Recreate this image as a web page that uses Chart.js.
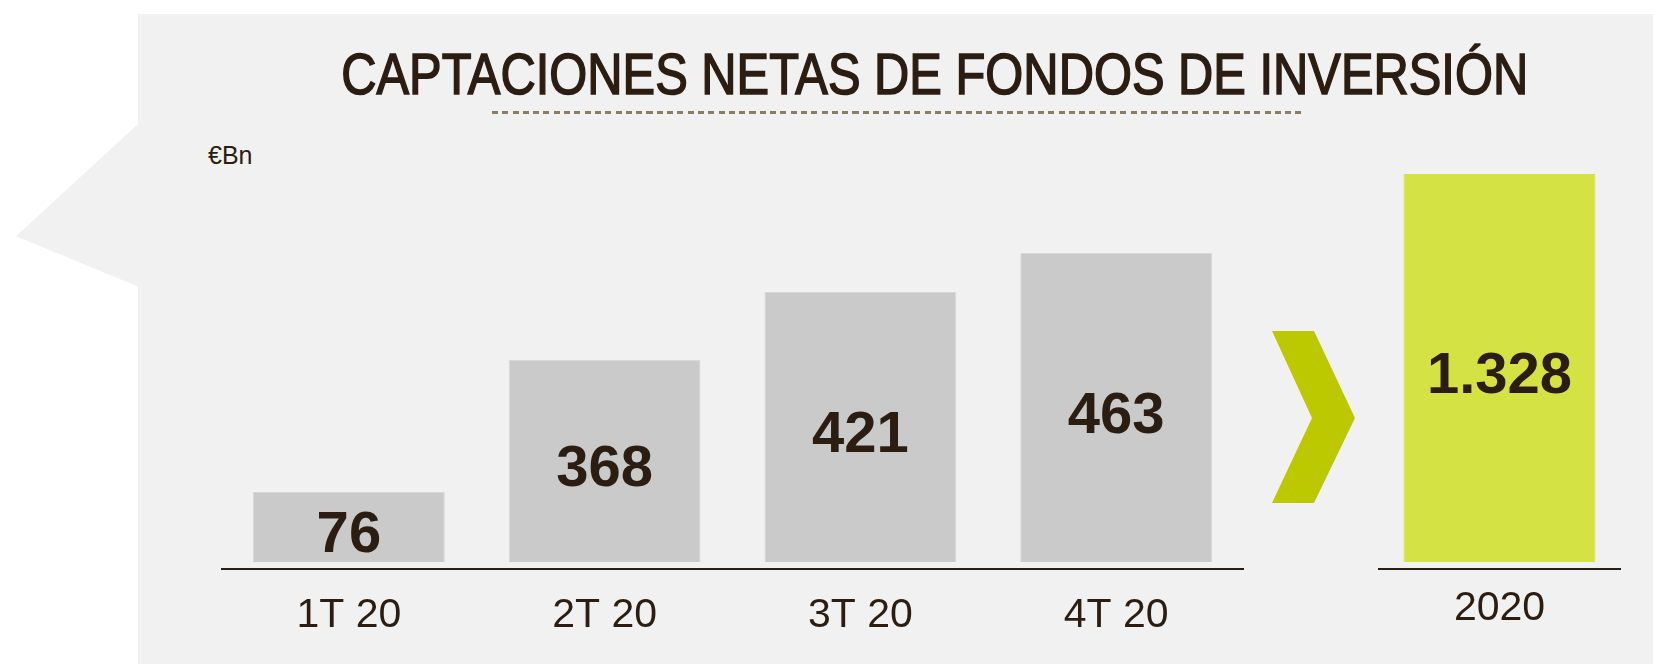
<!DOCTYPE html>
<html>
<head>
<meta charset="utf-8">
<script src="https://cdn.jsdelivr.net/npm/chart.js@4.4.1/dist/chart.umd.min.js"></script>
<style>
  html, body { margin: 0; padding: 0; background: #ffffff; }
  body { width: 1653px; height: 664px; position: relative; overflow: hidden; font-family: "Liberation Sans", Arial, sans-serif; }
  #panel { position: absolute; left: 138px; top: 14px; right: 0; bottom: 0; background: #f1f1f1; }
  #pointer { position: absolute; left: 16px; top: 123px; width: 123px; height: 164px; background: #f1f1f1;
             clip-path: polygon(100% 0, 0 69%, 100% 100%); }
  #title { position: absolute; left: 108px; top: 45px; width: 1653px; text-align: center; white-space: nowrap;
           font-size: 58px; line-height: 58px; color: #2b1d12; font-weight: normal;
           -webkit-text-stroke: 1.6px #2b1d12; }
  #title span { display: inline-block; transform-origin: center; }
  #dots { position: absolute; left: 492px; top: 111px; width: 813px; height: 3px;
          background: repeating-linear-gradient(to right, #8c7b65 0 6px, transparent 6px 10.3px); }
  #unit { position: absolute; left: 208px; top: 143px; font-size: 25px; line-height: 25px; color: #2b1d12; }
  #chevron { position: absolute; left: 1272px; top: 331px; width: 83px; height: 172px; background: #bcc800;
             clip-path: polygon(0 0, 50.6% 0, 100% 50.6%, 50.6% 100%, 0 100%, 48.2% 50.6%); }
  .wrap { position: absolute; top: 0; height: 664px; }
</style>
</head>
<body>
<div id="panel"></div>
<div id="pointer"></div>
<div id="title"><span id="titleText">CAPTACIONES NETAS DE FONDOS DE INVERSIÓN</span></div>
<div id="dots"></div>
<div id="unit">€Bn</div>
<div id="chevron"></div>
<div class="wrap" style="left:221px;width:1023px;"><canvas id="c1"></canvas></div>
<div class="wrap" style="left:1378px;width:243px;"><canvas id="c2"></canvas></div>
<script>
// ---- data ----
const quarterLabels = ['1T 20', '2T 20', '3T 20', '4T 20'];
const quarterValues = [76, 368, 421, 463];        // printed values (€Bn)
const quarterBarHeights = [70, 202, 270, 309];   // drawn bar heights (the original is not to scale)
const yearLabels = ['2020'];
const yearValues = [1328];                        // printed value (€Bn)
const yearBarHeights = [388];                     // drawn bar height

const TEXT = '#2b1d12';
const FONT = '"Liberation Sans", Arial, sans-serif';

// fit the title width
(function () {
  const el = document.getElementById('titleText');
  const w = el.getBoundingClientRect().width;
  el.style.transform = 'scaleX(' + (1187 / w) + ')';
})();

function fmtEs(v) {
  return String(v).replace(/\B(?=(\d{3})+(?!\d))/g, '.');
}

const valueLabels = {
  id: 'valueLabels',
  afterDatasetsDraw(chart, args, opts) {
    const ctx = chart.ctx;
    const meta = chart.getDatasetMeta(0);
    ctx.save();
    ctx.font = 'bold 58px ' + FONT;
    ctx.fillStyle = TEXT;
    ctx.textAlign = 'center';
    ctx.textBaseline = 'alphabetic';
    meta.data.forEach((bar, i) => {
      const mid = (bar.y + bar.base) / 2;
      ctx.fillText(fmtEs(opts.values[i]), bar.x, mid + 25);
    });
    ctx.restore();
  }
};

function makeChart(id, labels, heights, values, color, barPct, tickPad) {
  return new Chart(document.getElementById(id), {
    type: 'bar',
    data: {
      labels: labels,
      datasets: [{
        data: heights,
        backgroundColor: color,
        borderColor: color === '#cacaca' ? '#d8d8d8' : color,
        borderWidth: 1,
        barPercentage: barPct,
        categoryPercentage: 1.0
      }]
    },
    options: {
      responsive: true,
      maintainAspectRatio: false,
      animation: false,
      events: [],
      layout: { padding: { top: 174, left: 0, right: 0, bottom: 0 } },
      plugins: {
        legend: { display: false },
        tooltip: { enabled: false },
        title: { display: false },
        valueLabels: { values: values }
      },
      scales: {
        x: {
          grid: { display: false, drawTicks: false },
          border: { display: true, color: TEXT, width: 2 },
          ticks: { color: TEXT, font: { family: FONT, size: 41 }, padding: tickPad, maxRotation: 0 },
          afterFit: (s) => { s.height = 95; }
        },
        y: {
          display: false,
          min: -7,
          max: 388,
          grid: { display: false }
        }
      }
    },
    plugins: [valueLabels]
  });
}

makeChart('c1', quarterLabels, quarterBarHeights, quarterValues, '#cacaca', 0.75, 22);
makeChart('c2', yearLabels, yearBarHeights, yearValues, '#d4e343', 0.79, 15);
</script>
</body>
</html>
